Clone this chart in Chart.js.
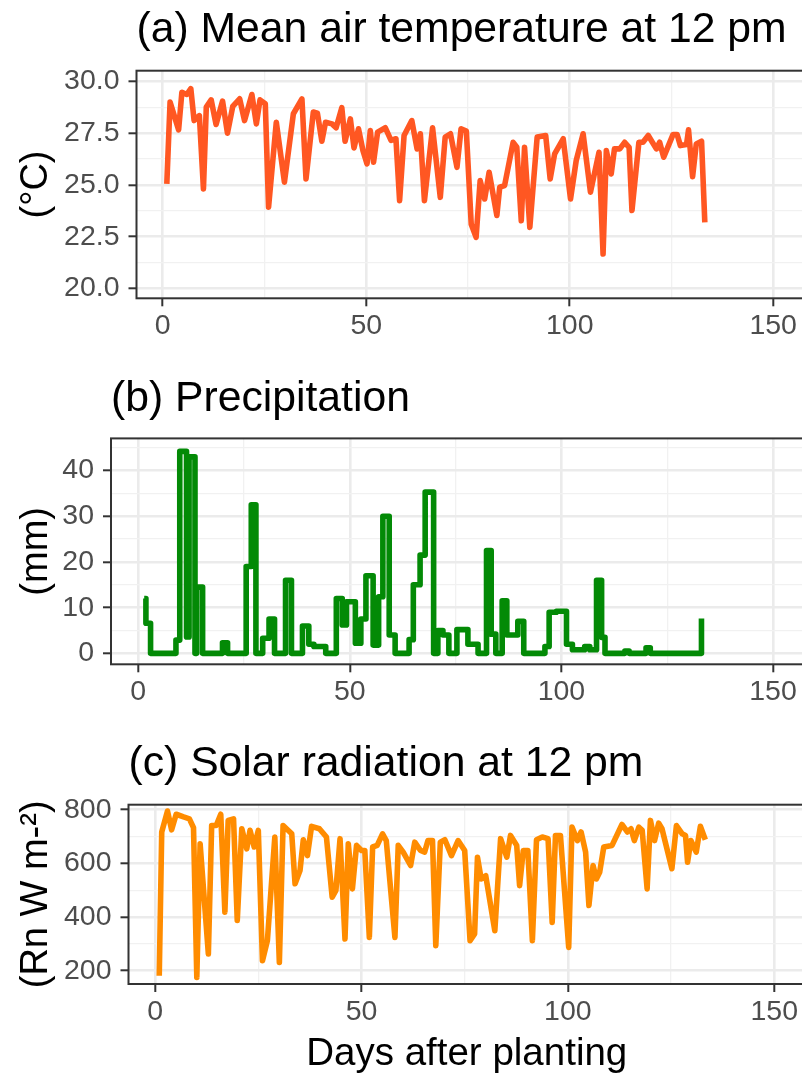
<!DOCTYPE html>
<html>
<head>
<meta charset="utf-8">
<script src="https://cdn.jsdelivr.net/npm/chart.js@4.4.1/dist/chart.umd.min.js"></script>
<style>
  html, body { margin: 0; padding: 0; background: #fff; overflow: hidden; width: 802px; height: 1075px; }
  .panel { position: absolute; left: 0; }
</style>
</head>
<body>
<div class="panel" style="top:0px"><canvas id="tempChart" width="806" height="350"></canvas></div>
<div class="panel" style="top:350px"><canvas id="rainChart" width="806" height="370"></canvas></div>
<div class="panel" style="top:720px"><canvas id="solarChart" width="806" height="355"></canvas></div>
<script>
// days after planting (x) and values

// (a) mean air temperature at 12 pm, degC
const tempDays = [1.0, 1.8, 3.9, 4.7, 5.9, 6.9, 7.7, 9.0, 10.0, 10.7, 11.9, 13.1, 14.7, 15.9, 17.2, 18.9,
  20.1, 21.9, 23.0, 23.9, 25.2, 26.0, 27.9, 29.9, 32.1, 34.2, 35.2, 37.0, 38.0, 39.1, 40.0, 41.6,
  42.6, 44.0, 44.8, 46.1, 47.0, 48.1, 49.2, 50.2, 51.0, 51.8, 52.8, 54.7, 56.1, 57.3, 58.2, 59.3,
  61.2, 62.5, 63.3, 64.3, 66.3, 68.2, 69.4, 70.7, 72.3, 73.3, 74.6, 75.8, 77.0, 78.0, 79.1, 80.2,
  82.1, 82.8, 84.0, 86.1, 87.0, 88.1, 88.9, 90.2, 92.0, 94.1, 95.2, 96.3, 98.4, 100.2, 101.6, 103.3,
  105.1, 107.2, 108.2, 109.0, 110.2, 111.0, 112.3, 113.5, 114.6, 115.3, 117.0, 118.0, 119.3, 121.3,
  122.1, 123.1, 125.4, 126.4, 127.2, 128.7, 129.2, 130.2, 131.1, 132.4, 133.2];
const tempValues = [25.05, 29.0, 27.66, 29.48, 29.37, 29.65, 28.11, 28.35, 24.81, 28.76, 29.11, 27.92, 29.05, 27.5, 28.79, 29.16,
  28.11, 29.37, 27.95, 29.11, 28.92, 23.92, 28.03, 25.13, 28.44, 29.16, 25.29, 28.52, 28.47, 27.11, 28.03, 27.95,
  27.76, 28.73, 27.11, 28.19, 26.79, 27.71, 26.66, 26.02, 27.63, 26.1, 27.55, 27.76, 27.15, 27.23, 24.24, 27.39,
  28.11, 26.74, 27.47, 24.24, 27.76, 24.4, 27.31, 27.47, 25.85, 27.71, 27.6, 23.1, 22.47, 25.21, 24.32, 25.61,
  23.52, 24.89, 24.97, 27.06, 26.82, 23.27, 26.82, 22.95, 27.31, 27.39, 25.29, 26.5, 27.23, 24.32, 26.18, 27.47,
  24.65, 26.58, 21.66, 26.66, 25.53, 26.74, 26.74, 27.06, 26.82, 23.76, 27.06, 27.06, 27.39, 26.74,
  27.06, 26.34, 27.44, 27.44, 26.9, 26.95, 27.66, 25.4, 26.98, 27.11, 23.19];

// (b) precipitation, mm (each value holds until the next day entry)
const rainDays = [1.4, 1.8, 2.9, 8.9, 9.8, 11.4, 12.0, 13.4, 13.8, 15.2, 19.9, 21.1, 25.5, 26.7, 27.8,
  29.4, 30.9, 32.2, 34.8, 36.2, 38.8, 40.3, 41.5, 44.3, 46.8, 48.2, 49.2, 51.3, 52.6, 53.8,
  55.5, 56.8, 57.8, 59.3, 60.7, 64.0, 65.0, 66.6, 67.8, 69.8, 70.8, 72.0, 73.4, 75.3, 77.9,
  80.3, 82.3, 83.4, 84.5, 86.0, 87.1, 89.7, 91.1, 96.1, 97.1, 98.8, 101.2, 102.6, 105.5, 106.7,
  108.3, 109.5, 110.3, 115.0, 116.0, 120.0, 121.0, 133.1];
const rainValues = [12, 6.6, 0, 2.9, 44.2, 3.6, 43, 0, 14.5, 0, 2.3, 0, 19, 32.5, 0,
  3.3, 7.5, 0, 16, 0, 6, 2, 1.5, 0, 12, 6.2, 11.3, 2.2, 7.5, 17,
  1.8, 12.4, 30, 4, 0, 3, 15, 21.5, 35.3, 0, 5, 4, 0, 5.2, 2,
  0, 22.5, 4.2, 0, 11.5, 4, 7, 0, 1.5, 9, 9.2, 2, 0.8, 1.5, 0.8,
  16, 3.5, 0, 0.5, 0, 1.2, 0, 7.6];

// (c) solar radiation at 12 pm, W m-2
const solarDays = [1.0, 1.6, 3.0, 4.0, 5.1, 6.9, 8.3, 9.3, 10.1, 10.9, 12.9, 13.7, 14.8, 15.9, 16.9, 17.7,
  19.0, 19.9, 21.0, 22.2, 23.0, 24.0, 25.0, 26.0, 27.2, 29.0, 30.1, 31.0, 33.1, 33.9, 35.1, 35.9,
  36.9, 37.9, 39.8, 41.5, 42.9, 43.8, 44.8, 46.0, 46.8, 47.8, 48.8, 50.0, 50.8, 51.9, 52.7, 53.8,
  55.1, 56.0, 58.1, 58.9, 60.1, 61.9, 62.9, 64.3, 65.3, 66.1, 67.2, 68.0, 69.1, 70.2, 71.8, 73.4,
  75.0, 76.3, 77.4, 78.1, 79.0, 80.1, 82.3, 83.7, 85.2, 86.1, 87.6, 88.3, 89.2, 90.3, 91.4, 92.4,
  93.8, 95.2, 96.2, 97.0, 98.2, 100.2, 101.0, 102.3, 103.2, 104.3, 105.1, 106.1, 106.9, 107.7, 108.7,
  110.7, 113.1, 114.4, 115.3, 116.1, 117.2, 118.0, 119.2, 120.0, 121.0, 122.0, 122.8, 125.2, 126.3,
  127.7, 128.5, 129.0, 129.8, 131.1, 132.1, 133.3];
const solarValues = [181, 717, 795, 725, 783, 773, 766, 733, 175, 673, 262, 741, 741, 783, 418, 760,
  766, 387, 729, 654, 723, 661, 723, 237, 312, 698, 231, 741, 710, 524, 573, 688,
  629, 738, 729, 698, 474, 499, 692, 318, 673, 505, 667, 648, 648, 324, 661, 667,
  710, 685, 324, 667, 642, 592, 679, 648, 642, 685, 685, 293, 679, 688, 629, 685,
  648, 312, 337, 623, 542, 554, 349, 692, 623, 704, 667, 517, 648, 648, 312, 688,
  698, 692, 380, 704, 704, 287, 735, 685, 717, 642, 443, 592, 542, 567, 661,
  667, 745, 717, 729, 685, 735, 723, 505, 760, 685, 750, 729, 580, 741,
  710, 704, 604, 685, 642, 738, 688];

// tick values (minor + major) and which ones carry labels
const xTicks = [0, 25, 50, 75, 100, 125, 150];
const xLabelTicks = [0, 50, 100, 150];
const tempTicks = [20, 21.25, 22.5, 23.75, 25, 26.25, 27.5, 28.75, 30];
const tempLabelTicks = [20, 22.5, 25, 27.5, 30];
const rainTicks = [0, 5, 10, 15, 20, 25, 30, 35, 40, 45];
const rainLabelTicks = [0, 10, 20, 30, 40];
const solarTicks = [200, 300, 400, 500, 600, 700, 800];
const solarLabelTicks = [200, 400, 600, 800];

const FONT = '"Liberation Sans", Arial, Helvetica, sans-serif';

// ggplot-like panel border drawn over the lines
const panelBorder = {
  id: 'panelBorder',
  afterDatasetsDraw(chart) {
    const {ctx, chartArea: a} = chart;
    ctx.save();
    ctx.strokeStyle = '#333333';
    ctx.lineWidth = 2;
    ctx.strokeRect(a.left, a.top, a.right - a.left, a.bottom - a.top);
    ctx.restore();
  }
};

function gridFor(labelTicks) {
  const major = v => labelTicks.includes(v);
  return {
    color: c => major(c.tick.value) ? '#EBEBEB' : '#F1F1F1',
    lineWidth: c => major(c.tick.value) ? 2.6 : 1.3,
    drawTicks: true,
    tickLength: 8,
    tickWidth: 2,
    tickColor: c => major(c.tick.value) ? '#333333' : 'rgba(0,0,0,0)'
  };
}

function makePanel(id, o) {
  return new Chart(document.getElementById(id), {
    type: 'line',
    data: {
      datasets: [{
        data: o.days.map((d, i) => ({x: d, y: o.values[i]})),
        borderColor: o.color,
        borderWidth: 5.6,
        pointRadius: 0,
        borderJoinStyle: 'round',
        stepped: o.stepped || false,
        tension: 0
      }]
    },
    options: {
      responsive: false,
      animation: false,
      layout: {padding: {left: 0, right: o.padRight, top: 0, bottom: 0}},
      plugins: {
        legend: {display: false},
        tooltip: {enabled: false},
        title: {
          display: true,
          text: o.title,
          align: 'start',
          fullSize: false,
          color: '#000',
          font: {family: FONT, size: 42.7, weight: 'normal', lineHeight: 1},
          padding: {top: o.titleTop, bottom: o.titleBottom}
        }
      },
      scales: {
        x: {
          type: 'linear',
          min: -6.45,
          max: 157.45,
          afterBuildTicks: s => { s.ticks = xTicks.map(v => ({value: v})); },
          afterFit: s => { s.height = o.xHeight; },
          ticks: {
            callback: v => xLabelTicks.includes(v) ? String(v) : '',
            color: '#4D4D4D',
            font: {family: FONT, size: 28.5, lineHeight: 1},
            padding: 6,
            maxRotation: 0,
            autoSkip: false
          },
          grid: gridFor(xLabelTicks),
          border: {display: false},
          title: o.xTitle ? {
            display: true,
            text: o.xTitle,
            color: '#000',
            font: {family: FONT, size: 38.5, lineHeight: 1},
            padding: {top: 0, bottom: 1.5}
          } : {display: false}
        },
        y: {
          min: o.yMin,
          max: o.yMax,
          afterBuildTicks: s => { s.ticks = o.yTicks.map(v => ({value: v})); },
          afterFit: s => { s.width = o.yWidth; },
          ticks: {
            callback: v => o.yLabelTicks.includes(v) ? o.fmt(v) : '',
            color: '#4D4D4D',
            font: {family: FONT, size: 28.5, lineHeight: 1},
            padding: 9,
            autoSkip: false
          },
          grid: gridFor(o.yLabelTicks),
          border: {display: false},
          title: {
            display: true,
            text: o.yTitle,
            color: '#000',
            font: {family: FONT, size: 38, lineHeight: 1},
            padding: {top: 17.5, bottom: 0}
          }
        }
      }
    },
    plugins: [panelBorder]
  });
}

makePanel('tempChart', {
  days: tempDays, values: tempValues, color: '#FF5722',
  title: '(a) Mean air temperature at 12 pm', yTitle: '(°C)',
  yMin: 19.52, yMax: 30.52, yTicks: tempTicks, yLabelTicks: tempLabelTicks,
  fmt: v => v.toFixed(1),
  yWidth: 136.5, padRight: 2.5, titleTop: 9.3, titleBottom: 18.7, xHeight: 51.7
});

makePanel('rainChart', {
  days: rainDays, values: rainValues, color: '#038A06', stepped: true,
  title: '(b) Precipitation', yTitle: '(mm)',
  yMin: -2.4, yMax: 47.05, yTicks: rainTicks, yLabelTicks: rainLabelTicks,
  fmt: v => String(v),
  yWidth: 111, padRight: 1.5, titleTop: 27.5, titleBottom: 18.2, xHeight: 55.7
});

makePanel('solarChart', {
  days: solarDays, values: solarValues, color: '#FF8C00',
  title: '(c) Solar radiation at 12 pm', yTitle: '(Rn W m-²)', xTitle: 'Days after planting',
  yMin: 150.4, yMax: 818.6, yTicks: solarTicks, yLabelTicks: solarLabelTicks,
  fmt: v => String(v),
  yWidth: 128.5, padRight: 1, titleTop: 23, titleBottom: 19, xHeight: 91
});
</script>
</body>
</html>
